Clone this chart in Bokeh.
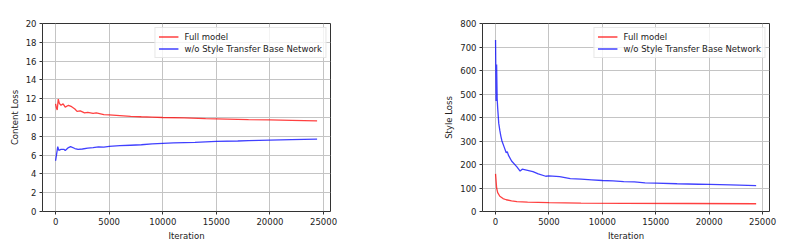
from bokeh.plotting import figure
from bokeh.layouts import row
from bokeh.models import Range1d, Legend, LegendItem, FixedTicker
from bokeh.embed import file_html
from bokeh.resources import INLINE

# ---- data ----
content_x_full = [0, 80, 150, 250, 350, 500, 700, 900, 1200, 1500, 1800, 2000, 2300, 2700, 3000,
                  3500, 3800, 4500, 5000, 6000, 7000, 8000, 9000, 10000, 12000, 14000, 16000,
                  18000, 20000, 22000, 24400]
content_full = [11.45, 11.0, 10.8, 11.95, 11.5, 11.3, 11.45, 11.1, 11.3, 11.15, 10.9, 10.65, 10.7,
                10.5, 10.55, 10.45, 10.5, 10.3, 10.27, 10.2, 10.12, 10.08, 10.05, 10.0, 9.95,
                9.88, 9.83, 9.78, 9.74, 9.7, 9.65]
content_x_wo = [0, 80, 200, 300, 500, 800, 900, 1200, 1400, 1800, 2100, 2500, 3000, 3500, 4000,
                4500, 5000, 6000, 7000, 8000, 9000, 10000, 11000, 13000, 14000, 15000, 17000,
                18000, 20000, 22000, 24400]
content_wo = [5.4, 6.0, 6.9, 6.5, 6.6, 6.6, 6.5, 6.8, 6.9, 6.7, 6.6, 6.65, 6.75, 6.8, 6.88,
              6.85, 6.92, 7.0, 7.05, 7.1, 7.2, 7.25, 7.3, 7.35, 7.4, 7.45, 7.5, 7.55, 7.6,
              7.65, 7.7]

style_x_full = [0, 100, 200, 400, 700, 1000, 1500, 2000, 3000, 5000, 8000, 12000, 18000, 24400]
style_full = [160, 100, 80, 65, 55, 50, 45, 42, 40, 38, 36, 35, 34, 33]
style_x_wo = [0, 50, 100, 150, 200, 300, 400, 500, 600, 800, 1000, 1100, 1200, 1500, 2000, 2300,
              2500, 3000, 3500, 4000, 4700, 5000, 6000, 7000, 8000, 9000, 10000, 11000, 12000,
              13000, 14000, 15000, 17000, 19000, 20000, 22000, 24400]
style_wo = [730, 470, 625, 480, 440, 375, 345, 320, 300, 275, 250, 255, 240, 215, 190, 172,
            180, 175, 170, 160, 150, 152, 148, 140, 138, 135, 132, 130, 127, 126, 122, 121,
            118, 116, 115, 113, 110]

x_ticks = [0, 5000, 10000, 15000, 20000, 25000]
content_ticks = [0, 2, 4, 6, 8, 10, 12, 14, 16, 18, 20]
style_ticks = [0, 100, 200, 300, 400, 500, 600, 700, 800]

labels = ["Full model", "w/o Style Transfer Base Network"]
colors = ["#ff0000", "#0000ff"]

FONT = "DejaVu Sans"
FS = "8.5px"


def make(xf, yf, xw, yw, yr, yticks, ylabel, width, bl, br):
    p = figure(width=width, height=243, output_backend="svg", toolbar_location=None,
               x_range=Range1d(-1222, 25650), y_range=Range1d(*yr),
               min_border_left=bl, min_border_right=br, min_border_top=23, min_border_bottom=30)
    p.outline_line_color = "#333333"
    p.outline_line_width = 1
    p.background_fill_color = "white"
    p.border_fill_color = "white"
    r1 = p.line(xf, yf, color=colors[0], line_width=1.3, line_alpha=0.75)
    r2 = p.line(xw, yw, color=colors[1], line_width=1.3, line_alpha=0.75)
    for ax in (p.xaxis[0], p.yaxis[0]):
        ax.axis_line_color = None
        ax.major_tick_line_color = "#333333"
        ax.major_tick_out = 3
        ax.major_tick_in = 0
        ax.minor_tick_line_color = None
        ax.major_label_text_font = FONT
        ax.major_label_text_font_size = FS
        ax.major_label_text_color = "#222222"
        ax.axis_label_text_font = FONT
        ax.axis_label_text_font_size = FS
        ax.axis_label_text_font_style = "normal"
        ax.axis_label_text_color = "#222222"
        ax.major_label_standoff = 3
        ax.axis_label_standoff = 3
    p.xaxis[0].ticker = FixedTicker(ticks=x_ticks)
    p.yaxis[0].ticker = FixedTicker(ticks=yticks)
    p.xaxis.axis_label = "Iteration"
    p.yaxis.axis_label = ylabel
    p.grid.grid_line_color = "#c4c4c4"
    p.grid.grid_line_width = 1
    p.xgrid.ticker = FixedTicker(ticks=x_ticks)
    p.ygrid.ticker = FixedTicker(ticks=yticks)
    leg = Legend(items=[LegendItem(label=labels[0], renderers=[r1]),
                        LegendItem(label=labels[1], renderers=[r2])],
                 location="top_right")
    leg.label_text_font = FONT
    leg.label_text_font_size = FS
    leg.label_text_color = "#222222"
    leg.glyph_width = 20
    leg.glyph_height = 11
    leg.label_height = 11
    leg.spacing = 1
    leg.padding = 3
    leg.margin = 4
    leg.label_standoff = 6
    leg.border_line_color = "#d0d0d0"
    leg.border_line_width = 1
    leg.background_fill_alpha = 0.8
    p.add_layout(leg)
    return p


p1 = make(content_x_full, content_full, content_x_wo, content_wo, (0, 20), content_ticks,
          "Content Loss", 400, 42, 70)
p2 = make(style_x_full, style_full, style_x_wo, style_wo, (0, 800), style_ticks,
          "Style Loss", 377, 82, 8)

layout = row(p1, p2)
open("out.html", "w").write(file_html(layout, INLINE))
